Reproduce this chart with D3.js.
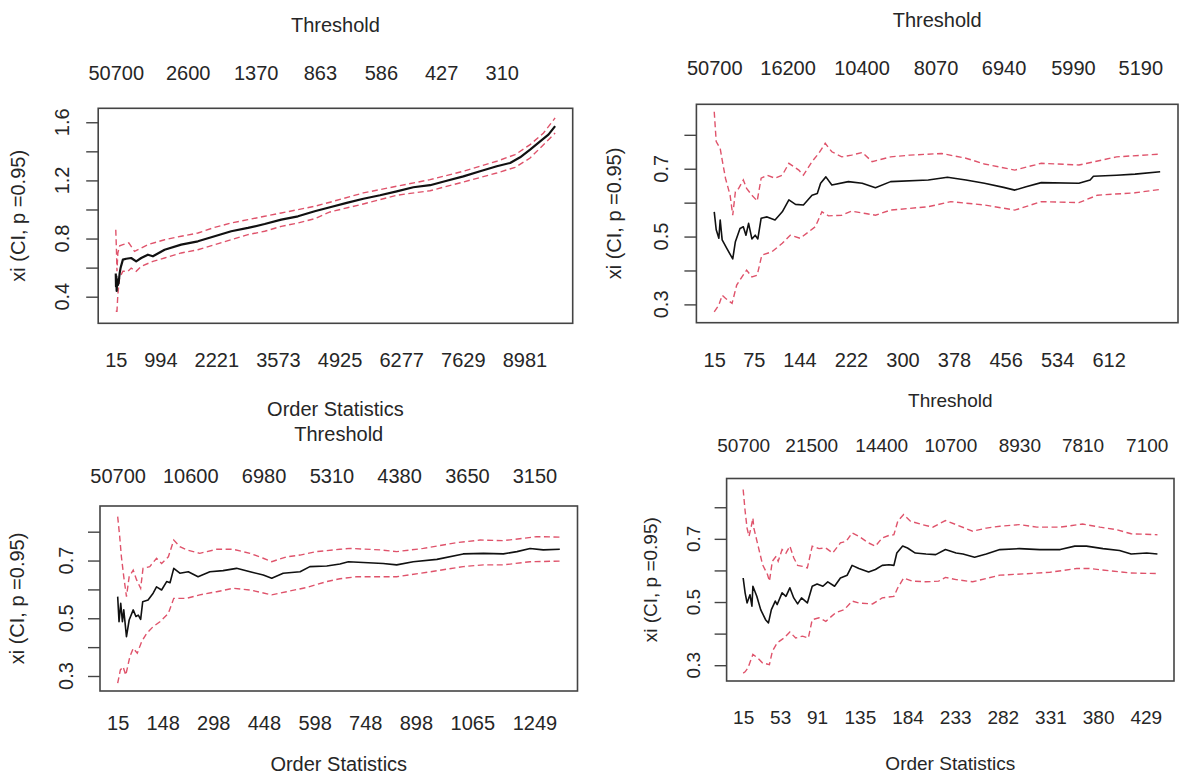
<!DOCTYPE html>
<html><head><meta charset="utf-8">
<script src="https://cdn.jsdelivr.net/npm/d3@7"></script>
<style>
body{margin:0;background:#fff}
svg{display:block}
text{font-family:"Liberation Sans",Arial,sans-serif;fill:#262626}
</style>
</head><body><svg id="c" width="1179" height="776"></svg>
<script>
// ---------------- DATA ----------------
// Panel 1 (n = 9655)
const p1Xi = [[15,0.56],[20,0.47],[28,0.54],[35,0.44],[45,0.52],[60,0.48],[76,0.494],[100,0.56],[120,0.597],[171,0.655],[243,0.661],[353,0.666],[463,0.643],[573,0.666],[720,0.689],[830,0.678],[1086,0.723],[1450,0.758],[1817,0.781],[2184,0.816],[2548,0.85],[2915,0.873],[3282,0.9],[3646,0.93],[4013,0.953],[4380,0.988],[4715,1.015],[5082,1.045],[5447,1.074],[5813,1.098],[6180,1.125],[6544,1.153],[6911,1.167],[7277,1.198],[7642,1.228],[8008,1.263],[8375,1.297],[8667,1.32],[8887,1.359],[9106,1.412],[9326,1.469],[9508,1.515],[9655,1.573]];
const p1Up = [[15,0.861],[30,0.72],[41,0.575],[60,0.70],[100,0.75],[171,0.758],[300,0.77],[427,0.712],[573,0.735],[720,0.758],[1086,0.792],[1450,0.816],[1817,0.838],[2184,0.877],[2548,0.907],[2915,0.93],[3282,0.953],[3646,0.976],[4013,0.999],[4380,1.022],[4715,1.05],[5447,1.114],[6180,1.16],[6911,1.205],[7642,1.263],[8375,1.332],[8777,1.377],[9106,1.446],[9400,1.526],[9655,1.63]];
const p1Lo = [[15,0.3],[41,0.30],[60,0.414],[98,0.529],[171,0.575],[280,0.575],[353,0.597],[463,0.575],[573,0.609],[830,0.643],[1086,0.666],[1450,0.701],[1817,0.723],[2184,0.758],[2548,0.792],[2915,0.827],[3282,0.85],[3646,0.884],[4013,0.907],[4380,0.937],[4715,0.983],[5447,1.038],[6180,1.098],[6911,1.129],[7642,1.189],[8375,1.251],[8777,1.29],[9106,1.354],[9400,1.446],[9655,1.526]];
const p1BottomTicks = [15,994,2221,3573,4925,6277,7629,8981];
const p1TopLabels = ["50700","2600","1370","863","586","427","310"];
const p1TopAt = [15,1594,3086,4492,5831,7153,8483];
const p1YTicks = [0.4,0.6,0.8,1.0,1.2,1.4,1.6];
const p1YLabels = [0.4,0.8,1.2,1.6];

// Panel 2 (n = 690)
const p2Xi = [[15,0.573],[18,0.52],[22,0.495],[24,0.549],[27,0.49],[34,0.465],[43,0.434],[47,0.485],[54,0.524],[59,0.529],[63,0.504],[67,0.539],[72,0.493],[77,0.504],[81,0.493],[86,0.554],[95,0.558],[107,0.549],[118,0.573],[128,0.608],[138,0.595],[150,0.593],[163,0.622],[171,0.627],[176,0.657],[184,0.676],[193,0.652],[218,0.662],[239,0.657],[259,0.644],[282,0.662],[339,0.667],[368,0.675],[396,0.667],[424,0.657],[453,0.645],[470,0.637],[487,0.647],[510,0.659],[567,0.657],[584,0.667],[589,0.678],[624,0.681],[652,0.684],[690,0.691]];
const p2Up = [[15,0.868],[18,0.78],[24,0.76],[27,0.726],[32,0.672],[39,0.622],[43,0.563],[47,0.632],[52,0.642],[59,0.667],[64,0.642],[72,0.622],[80,0.605],[86,0.672],[95,0.681],[107,0.672],[118,0.681],[128,0.716],[143,0.696],[150,0.681],[163,0.721],[173,0.745],[183,0.775],[193,0.75],[208,0.735],[223,0.74],[239,0.748],[254,0.721],[282,0.735],[311,0.74],[359,0.745],[396,0.731],[424,0.714],[470,0.696],[510,0.716],[567,0.711],[624,0.735],[690,0.743]];
const p2Lo = [[15,0.278],[22,0.298],[27,0.327],[32,0.318],[42,0.303],[49,0.357],[57,0.381],[64,0.401],[72,0.381],[80,0.386],[87,0.445],[102,0.455],[118,0.48],[130,0.504],[145,0.495],[158,0.514],[168,0.529],[178,0.573],[188,0.561],[208,0.563],[223,0.575],[244,0.568],[259,0.563],[282,0.578],[339,0.588],[373,0.603],[424,0.593],[470,0.578],[510,0.603],[567,0.6],[595,0.622],[652,0.629],[690,0.639]];
const p2BottomTicks = [15,75,144,222,300,378,456,534,612];
const p2TopLabels = ["50700","16200","10400","8070","6940","5990","5190"];
const p2TopAt = [15,126,238,350,453,558,660];
const p2YTicks = [0.3,0.4,0.5,0.6,0.7,0.8];
const p2YLabels = [0.3,0.5,0.7];

// Panel 3 (n = 1324)
const p3Xi = [[15,0.575],[19,0.488],[24,0.552],[29,0.488],[33,0.529],[41,0.436],[49,0.494],[61,0.529],[69,0.506],[76,0.511],[83,0.496],[89,0.557],[105,0.563],[120,0.587],[130,0.609],[145,0.598],[160,0.627],[170,0.623],[181,0.673],[199,0.656],[224,0.661],[253,0.644],[288,0.661],[327,0.665],[367,0.673],[407,0.661],[446,0.65],[471,0.639],[505,0.656],[555,0.661],[584,0.679],[634,0.681],[673,0.688],[698,0.696],[742,0.693],[801,0.69],[841,0.685],[890,0.696],[960,0.704],[1038,0.723],[1098,0.725],[1157,0.723],[1197,0.731],[1236,0.742],[1275,0.737],[1324,0.739]];
const p3Up = [[15,0.852],[21,0.783],[26,0.713],[33,0.644],[41,0.575],[49,0.644],[61,0.667],[71,0.633],[83,0.604],[90,0.673],[110,0.679],[130,0.708],[145,0.69],[165,0.713],[181,0.771],[199,0.748],[219,0.737],[258,0.725],[308,0.739],[357,0.739],[407,0.725],[446,0.708],[471,0.696],[515,0.713],[555,0.719],[604,0.731],[673,0.739],[703,0.742],[792,0.737],[841,0.731],[920,0.742],[1019,0.762],[1088,0.771],[1157,0.769],[1216,0.777],[1256,0.783],[1324,0.781]];
const p3Lo = [[15,0.275],[23,0.321],[31,0.332],[39,0.303],[51,0.367],[61,0.396],[73,0.379],[86,0.419],[101,0.448],[120,0.471],[140,0.488],[165,0.517],[181,0.569],[219,0.569],[258,0.581],[308,0.592],[357,0.604],[407,0.598],[471,0.581],[515,0.592],[575,0.607],[634,0.627],[673,0.637],[723,0.644],[841,0.644],[940,0.661],[1038,0.679],[1098,0.685],[1157,0.685],[1236,0.696],[1324,0.698]];
const p3BottomTicks = [15,148,298,448,598,748,898,1065,1249];
const p3TopLabels = ["50700","10600","6980","5310","4380","3650","3150"];
const p3TopAt = [15,230,447,648,848,1049,1249];
const p3YTicks = [0.3,0.4,0.5,0.6,0.7,0.8];
const p3YLabels = [0.3,0.5,0.7];

// Panel 4 (n = 441)
const p4Xi = [[15,0.576],[17,0.529],[19,0.497],[22,0.523],[24,0.487],[25,0.55],[29,0.518],[33,0.476],[38,0.444],[41,0.434],[44,0.476],[48,0.503],[50,0.492],[55,0.529],[59,0.518],[63,0.545],[67,0.513],[71,0.494],[75,0.513],[81,0.497],[86,0.55],[91,0.557],[97,0.55],[102,0.564],[109,0.55],[115,0.576],[122,0.585],[127,0.616],[134,0.606],[144,0.595],[151,0.603],[158,0.616],[165,0.618],[170,0.616],[173,0.655],[179,0.677],[184,0.671],[192,0.655],[203,0.652],[213,0.65],[223,0.666],[234,0.655],[241,0.652],[253,0.642],[265,0.652],[279,0.666],[299,0.669],[320,0.666],[341,0.666],[356,0.677],[368,0.677],[385,0.669],[402,0.663],[414,0.652],[430,0.655],[441,0.652]];
const p4Up = [[15,0.856],[17,0.788],[19,0.734],[21,0.708],[23,0.734],[25,0.766],[26,0.734],[30,0.682],[35,0.618],[40,0.587],[42,0.566],[45,0.629],[49,0.645],[51,0.629],[55,0.666],[59,0.655],[63,0.677],[67,0.64],[71,0.616],[76,0.613],[81,0.608],[86,0.677],[93,0.669],[100,0.671],[107,0.655],[115,0.687],[121,0.692],[127,0.719],[134,0.708],[144,0.687],[151,0.677],[158,0.703],[165,0.711],[170,0.713],[174,0.756],[180,0.777],[187,0.756],[199,0.745],[210,0.737],[223,0.758],[234,0.745],[251,0.724],[265,0.734],[279,0.74],[299,0.745],[317,0.737],[341,0.737],[364,0.747],[382,0.737],[399,0.729],[414,0.716],[441,0.713]];
const p4Lo = [[15,0.275],[17,0.279],[20,0.292],[25,0.334],[30,0.323],[35,0.307],[42,0.302],[45,0.344],[50,0.371],[57,0.386],[63,0.405],[69,0.386],[76,0.392],[82,0.386],[86,0.444],[93,0.45],[100,0.439],[110,0.466],[119,0.476],[127,0.503],[134,0.497],[148,0.494],[158,0.513],[170,0.518],[174,0.545],[180,0.576],[189,0.566],[203,0.564],[216,0.566],[223,0.578],[234,0.571],[251,0.564],[279,0.585],[303,0.589],[330,0.594],[358,0.606],[371,0.606],[392,0.599],[413,0.592],[441,0.59]];
const p4BottomTicks = [15,53,91,135,184,233,282,331,380,429];
const p4TopLabels = ["50700","21500","14400","10700","8930","7810","7100"];
const p4TopAt = [15,85,157,228,299,364,430];
const p4YTicks = [0.3,0.4,0.5,0.6,0.7,0.8];
const p4YLabels = [0.3,0.5,0.7];

const yTitle = "xi (CI, p =0.95)";
const topTitle = "Threshold";
const bottomTitle = "Order Statistics";

// ---------------- LAYOUT ----------------
const panels = [
  {start:15, n:9655, xi:p1Xi, up:p1Up, lo:p1Lo, bt:p1BottomTicks, tl:p1TopLabels, ta:p1TopAt, yt:p1YTicks, yl:p1YLabels,
   yLim:[0.217,1.696], box:{l:98.2,t:108.3,r:572.7,b:323.3}, thrY:25, topY:72.7, botY:360, osY:409, yTitleX:17.7, yTickX:62, fs:20, lw:2.2},
  {start:15, n:690, xi:p2Xi, up:p2Up, lo:p2Lo, bt:p2BottomTicks, tl:p2TopLabels, ta:p2TopAt, yt:p2YTicks, yl:p2YLabels,
   yLim:[0.246,0.89], box:{l:696.4,t:104.3,r:1178,b:322.7}, thrY:20, topY:68.3, botY:360, osY:null, yTitleX:614.4, yTickX:661.4, fs:20, lw:1.6},
  {start:15, n:1324, xi:p3Xi, up:p3Up, lo:p3Lo, bt:p3BottomTicks, tl:p3TopLabels, ta:p3TopAt, yt:p3YTicks, yl:p3YLabels,
   yLim:[0.248,0.889], box:{l:100,t:506,r:577.5,b:691}, thrY:434.3, topY:476, botY:722.7, osY:764.3, yTitleX:17, yTickX:65.5, fs:20, lw:1.6},
  {start:15, n:441, xi:p4Xi, up:p4Up, lo:p4Lo, bt:p4BottomTicks, tl:p4TopLabels, ta:p4TopAt, yt:p4YTicks, yl:p4YLabels,
   yLim:[0.25,0.891], box:{l:726.6,t:478.5,r:1174,b:681}, thrY:400, topY:445, botY:717.3, osY:763.3, yTitleX:650, yTickX:693.3, fs:19, lw:1.6}
];

const svg = d3.select("#c");
svg.append("rect").attr("width",1179).attr("height",776).attr("fill","#fff");
const RED = "#DF536B";

panels.forEach(p => {
  const pad = 0.04*(p.n - p.start);
  const x = d3.scaleLinear().domain([p.start - pad, p.n + pad]).range([p.box.l, p.box.r]);
  const y = d3.scaleLinear().domain(p.yLim).range([p.box.b, p.box.t]);
  const g = svg.append("g");
  const cx = (p.box.l + p.box.r)/2;

  // lines
  const line = d3.line().x(d => x(d[0])).y(d => y(d[1]));
  g.append("path").datum(p.up).attr("d", line).attr("fill","none").attr("stroke",RED)
    .attr("stroke-width",1.4).attr("stroke-dasharray","6,3.5");
  g.append("path").datum(p.lo).attr("d", line).attr("fill","none").attr("stroke",RED)
    .attr("stroke-width",1.4).attr("stroke-dasharray","6,3.5");
  g.append("path").datum(p.xi).attr("d", line).attr("fill","none").attr("stroke","#111")
    .attr("stroke-width",p.lw).attr("stroke-linejoin","round");

  // box
  g.append("rect").attr("x",p.box.l).attr("y",p.box.t).attr("width",p.box.r-p.box.l).attr("height",p.box.b-p.box.t)
    .attr("fill","none").attr("stroke","#444").attr("stroke-width",1.6);

  // left axis ticks
  const ya = g.append("g").attr("transform",`translate(${p.box.l},0)`)
    .call(d3.axisLeft(y).tickValues(p.yt).tickSize(12).tickFormat(""));
  ya.select(".domain").remove();
  ya.selectAll(".tick line").attr("stroke","#444").attr("stroke-width",1.4);
  // rotated y tick labels
  g.selectAll(".ylab").data(p.yl).enter().append("text")
    .attr("transform", d => `translate(${p.yTickX},${y(d)}) rotate(-90)`)
    .attr("text-anchor","middle").attr("dominant-baseline","central")
    .style("font-size", p.fs+"px").text(d => d3.format(".1f")(d));

  // bottom labels (no ticks)
  const xb = g.append("g").attr("transform",`translate(0,${p.botY})`)
    .call(d3.axisBottom(x).tickValues(p.bt).tickSize(0).tickFormat(d3.format("d")));
  xb.select(".domain").remove();
  xb.selectAll("text").attr("y",0).attr("dy",null).attr("dominant-baseline","central")
    .style("font-size",p.fs+"px").attr("fill","#262626").style("font-family",'"Liberation Sans",Arial,sans-serif');

  // top labels (thresholds)
  const xt = g.append("g").attr("transform",`translate(0,${p.topY})`)
    .call(d3.axisTop(x).tickValues(p.ta).tickSize(0).tickFormat((d,i) => p.tl[i]));
  xt.select(".domain").remove();
  xt.selectAll("text").attr("y",0).attr("dy",null).attr("dominant-baseline","central")
    .style("font-size",p.fs+"px").attr("fill","#262626").style("font-family",'"Liberation Sans",Arial,sans-serif');

  // titles
  g.append("text").attr("x",cx).attr("y",p.thrY).attr("text-anchor","middle").attr("dominant-baseline","central")
    .style("font-size",p.fs+"px").text(topTitle);
  if (p.osY !== null) {
    g.append("text").attr("x",cx).attr("y",p.osY).attr("text-anchor","middle").attr("dominant-baseline","central")
      .style("font-size",p.fs+"px").text(bottomTitle);
  }
  g.append("text").attr("transform",`translate(${p.yTitleX},${(p.box.t+p.box.b)/2}) rotate(-90)`)
    .attr("text-anchor","middle").attr("dominant-baseline","central")
    .style("font-size",p.fs+"px").text(yTitle);
});
</script>
</body></html>
